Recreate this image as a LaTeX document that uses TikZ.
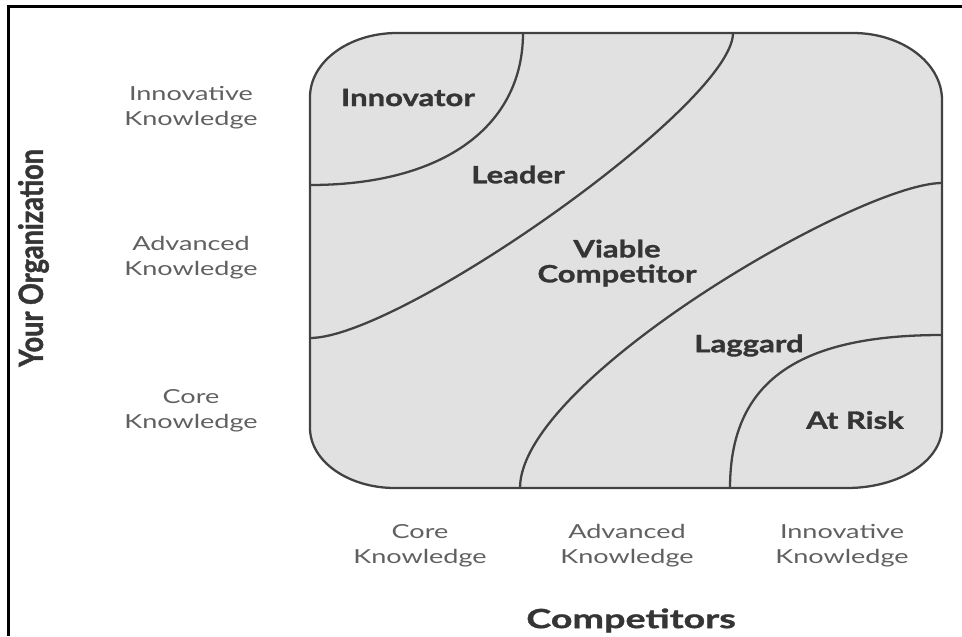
\documentclass[tikz,border=0pt]{standalone}
\usepackage{fontspec}
\setmainfont{Lato}[FakeStretch=1.4]
\newfontfamily\heavyfont{Lato}[FakeStretch=1.3, BoldFeatures={FakeBold=1.3}]
\newfontfamily\wideheavyfont{Lato}[FakeStretch=1.43, BoldFeatures={FakeBold=1.3}]
\newfontfamily\tallfont{Lato}[FakeStretch=0.81, BoldFeatures={FakeBold=1.3}]
\definecolor{edgegray}{HTML}{424242}
\definecolor{zonegray}{HTML}{E1E1E1}
\definecolor{labelgray}{HTML}{606060}
\definecolor{regiongray}{HTML}{353535}
\tikzset{
	zone/.style = {
		draw=edgegray,
		line width=1.3pt,
		fill=zonegray
	},
	divide/.style = {
		draw=edgegray,
		line width=1.3pt
	},
	level/.style = {
		font=\fontsize{11}{14.2}\selectfont,
		text=labelgray,
		align=center,
		inner sep=0pt
	},
	region/.style = {
		font=\heavyfont\bfseries\fontsize{13.6}{14.2}\selectfont,
		text=regiongray,
		align=center,
		inner sep=0pt
	},
	axis/.style = {
		font=\wideheavyfont\bfseries\fontsize{15}{16}\selectfont,
		text=regiongray,
		inner sep=0pt
	}
}

\begin{document}
\begin{tikzpicture}[x=0.02cm, y=-0.02cm]
		\useasboundingbox (0,0) rectangle (962,636);
		\draw[line width=1.7pt] (962,6.5) -- (8.5,6.5) -- (8.5,636);
		\path[zone] (397,33) -- (853,33)
			arc[start angle=-90, end angle=0, x radius=89, y radius=67]
			-- (942,427)
			arc[start angle=0, end angle=90, x radius=95, y radius=61]
			-- (395,488)
			arc[start angle=90, end angle=180, x radius=85, y radius=60]
			-- (310,97)
			arc[start angle=180, end angle=270, x radius=87, y radius=64]
			-- cycle;
		\draw[divide] (523,33) .. controls (523,125) and (445,185) .. (310,185);
		\draw[divide] (733,33) .. controls (733,104) and (400,338) .. (310,338);
		\draw[divide] (942,183) .. controls (860,183) and (520,380) .. (520,488);
		\draw[divide] (942,335) .. controls (800,335) and (730,380) .. (730,488);
		\node[region] (innovator) at (408,97.5) {Innovator};
		\node[region] (leader) at (518,174.5) {Leader};
		\node[region] (viable) at (617,263) {Viable\\Competitor};
		\node[region] (laggard) at (749,345.5) {Laggard};
		\node[region] (atrisk) at (855,420) {At Risk};
		\node[level] (orginnov) at (191,107.7) {Innovative\\Knowledge};
		\node[level] (orgadv) at (191,257.7) {Advanced\\Knowledge};
		\node[level] (orgcore) at (191,410.7) {Core\\Knowledge};
		\node[level] (compcore) at (420,545.7) {Core\\Knowledge};
		\node[level] (compadv) at (627,545.7) {Advanced\\Knowledge};
		\node[level] (compinnov) at (842,545.7) {Innovative\\Knowledge};
		\node[axis] (competitors) at (631,620.5) {Competitors};
		\node[axis, font=\tallfont\bfseries\fontsize{19}{20}\selectfont, rotate=90] (yourorg) at (33.5,258) {Your Organization};
\end{tikzpicture}
\end{document}
